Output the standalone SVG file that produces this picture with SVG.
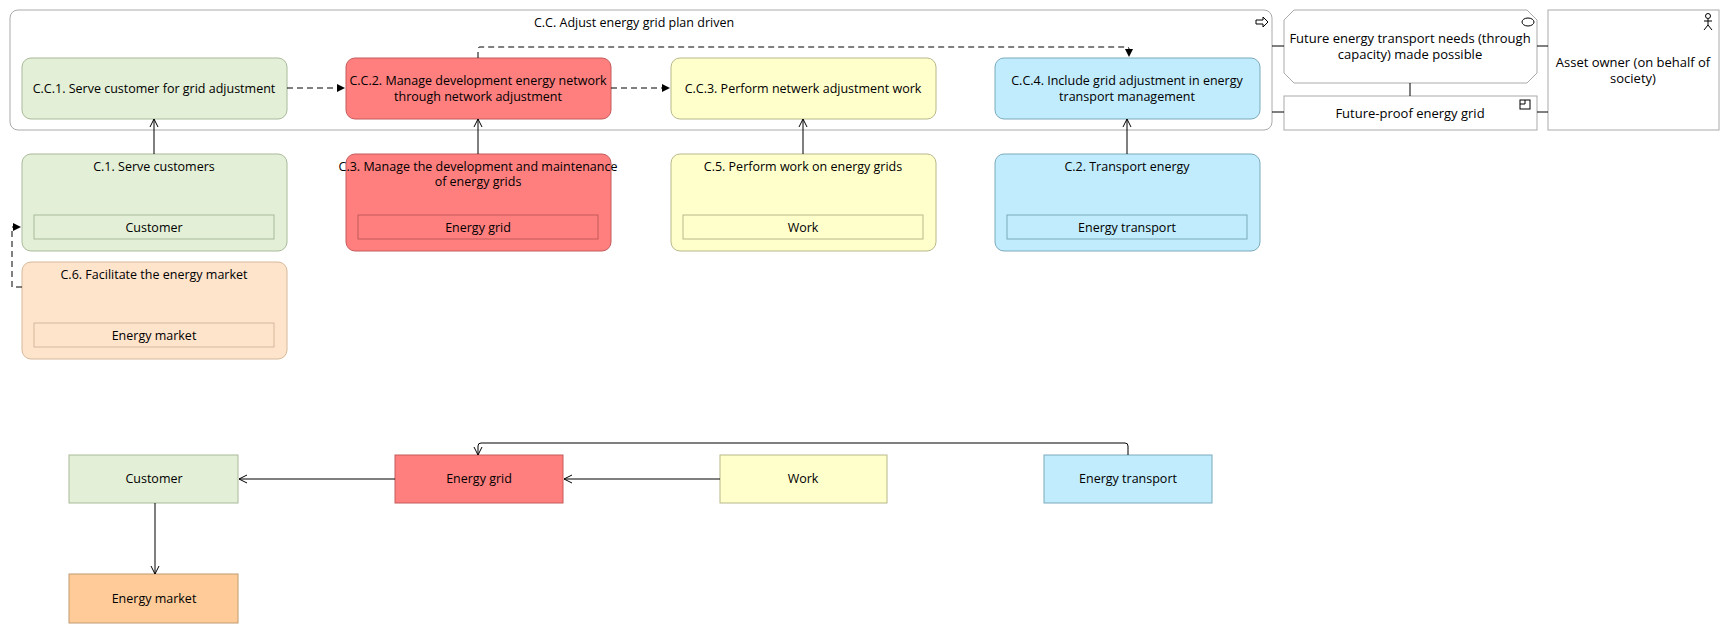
<svg xmlns="http://www.w3.org/2000/svg" width="1725" height="633" viewBox="0 0 1725 633">
<style>
text{font-family:"Open Sans","Liberation Sans",sans-serif;font-size:12.5px;fill:#000;text-anchor:middle}
.g{fill:#e3efd6;stroke:#a9b99a}.r{fill:#ff7f7f;stroke:#c45a5a}.y{fill:#ffffcc;stroke:#b8b88a}.b{fill:#c1ecfd;stroke:#7aaabb}.o{fill:#ffe4cc;stroke:#d6b89a}.om{fill:#ffcc99;stroke:#c09a70}
.w{fill:#fff;stroke:#aaa}
.l{fill:none;stroke:#000;stroke-width:1}.d{stroke-dasharray:6,4}
</style>
<defs>
<marker id="f" markerWidth="10" markerHeight="10" refX="9" refY="5" orient="auto" markerUnits="userSpaceOnUse"><path d="M1,1L9,5L1,9z" fill="#000"/></marker>
<marker id="a" markerWidth="10" markerHeight="10" refX="9" refY="5" orient="auto" markerUnits="userSpaceOnUse"><path d="M1,1L9,5L1,9" fill="none" stroke="#000"/></marker>
</defs>
<g id="container"><rect x="10" y="10" width="1262" height="120" rx="8" class="w"/><text x="634" y="27">C.C. Adjust energy grid plan driven</text><path d="M1256,20h7v-3l5,5l-5,5v-3h-7z" fill="none" stroke="#000"/></g>
<g id="cc1"><rect x="22" y="58" width="265" height="61" rx="9" class="g"/><text x="154" y="93">C.C.1. Serve customer for grid adjustment</text></g>
<g id="cc2"><rect x="346" y="58" width="265" height="61" rx="9" class="r"/><text x="478" y="85">C.C.2. Manage development energy network</text><text x="478" y="101">through network adjustment</text></g>
<g id="cc3"><rect x="671" y="58" width="265" height="61" rx="9" class="y"/><text x="803" y="93">C.C.3. Perform netwerk adjustment work</text></g>
<g id="cc4"><rect x="995" y="58" width="265" height="61" rx="9" class="b"/><text x="1127" y="85">C.C.4. Include grid adjustment in energy</text><text x="1127" y="101">transport management</text></g>
<g id="c1"><rect x="22" y="154" width="265" height="97" rx="9" class="g"/><text x="154" y="171">C.1. Serve customers</text><rect x="34" y="215" width="240" height="24" class="g"/><text x="154" y="232">Customer</text></g>
<g id="c3"><rect x="346" y="154" width="265" height="97" rx="9" class="r"/><text x="478" y="171">C.3. Manage the development and maintenance</text><text x="478" y="186">of energy grids</text><rect x="358" y="215" width="240" height="24" class="r"/><text x="478" y="232">Energy grid</text></g>
<g id="c5"><rect x="671" y="154" width="265" height="97" rx="9" class="y"/><text x="803" y="171">C.5. Perform work on energy grids</text><rect x="683" y="215" width="240" height="24" class="y"/><text x="803" y="232">Work</text></g>
<g id="c2"><rect x="995" y="154" width="265" height="97" rx="9" class="b"/><text x="1127" y="171">C.2. Transport energy</text><rect x="1007" y="215" width="240" height="24" class="b"/><text x="1127" y="232">Energy transport</text></g>
<g id="c6"><rect x="22" y="262" width="265" height="97" rx="9" class="o"/><text x="154" y="279">C.6. Facilitate the energy market</text><rect x="34" y="323" width="240" height="24" class="o"/><text x="154" y="340">Energy market</text></g>
<g id="need"><path d="M1294,10H1527L1537,20V73L1527,83H1294L1284,73V20z" class="w"/><ellipse cx="1528" cy="22" rx="6" ry="4" fill="none" stroke="#000"/><text x="1410" y="43" style="font-size:13px">Future energy transport needs (through</text><text x="1410" y="59" style="font-size:13px">capacity) made possible</text></g>
<g id="proof"><rect x="1284" y="96" width="253" height="34" class="w"/><rect x="1520" y="100" width="10" height="9" fill="none" stroke="#000"/><path d="M1520,104h5v-4" fill="none" stroke="#000"/><text x="1410" y="118" style="font-size:13px">Future-proof energy grid</text></g>
<g id="asset"><rect x="1548" y="10" width="171" height="120" class="w"/><circle cx="1708" cy="16" r="2.5" fill="none" stroke="#000"/><path d="M1708,19v6M1704,21h8M1708,25l-4,5M1708,25l4,5" fill="none" stroke="#000"/><text x="1633" y="67" style="font-size:13px">Asset owner (on behalf of</text><text x="1633" y="83" style="font-size:13px">society)</text></g>
<g id="b-customer"><rect x="69" y="455" width="169" height="48" class="g"/><text x="154" y="483">Customer</text></g>
<g id="b-grid"><rect x="395" y="455" width="168" height="48" class="r"/><text x="479" y="483">Energy grid</text></g>
<g id="b-work"><rect x="720" y="455" width="167" height="48" class="y"/><text x="803" y="483">Work</text></g>
<g id="b-transport"><rect x="1044" y="455" width="168" height="48" class="b"/><text x="1128" y="483">Energy transport</text></g>
<g id="b-market"><rect x="69" y="574" width="169" height="49" class="om"/><text x="154" y="603">Energy market</text></g>
<g id="connectors">
<path d="M287,88H345" class="l d" marker-end="url(#f)"/>
<path d="M611,88H670" class="l d" marker-end="url(#f)"/>
<path d="M478,58V49Q478,47 480,47H1127Q1129,47 1129,49V57" class="l d" marker-end="url(#f)"/>
<path d="M154,154V119" class="l" marker-end="url(#a)"/>
<path d="M478,154V119" class="l" marker-end="url(#a)"/>
<path d="M803,154V119" class="l" marker-end="url(#a)"/>
<path d="M1127,154V119" class="l" marker-end="url(#a)"/>
<path d="M22,287H12V227H21" class="l d" marker-end="url(#f)"/>
<path d="M1272,46H1284M1272,112H1284M1537,46H1548M1537,112H1548M1410,83V96" class="l"/>
<path d="M395,479H239" class="l" marker-end="url(#a)"/>
<path d="M720,479H564" class="l" marker-end="url(#a)"/>
<path d="M1128,455V446Q1128,443 1125,443H481Q478,443 478,446V455" class="l" marker-end="url(#a)"/>
<path d="M155,503V574" class="l" marker-end="url(#a)"/>
</g>
</svg>
